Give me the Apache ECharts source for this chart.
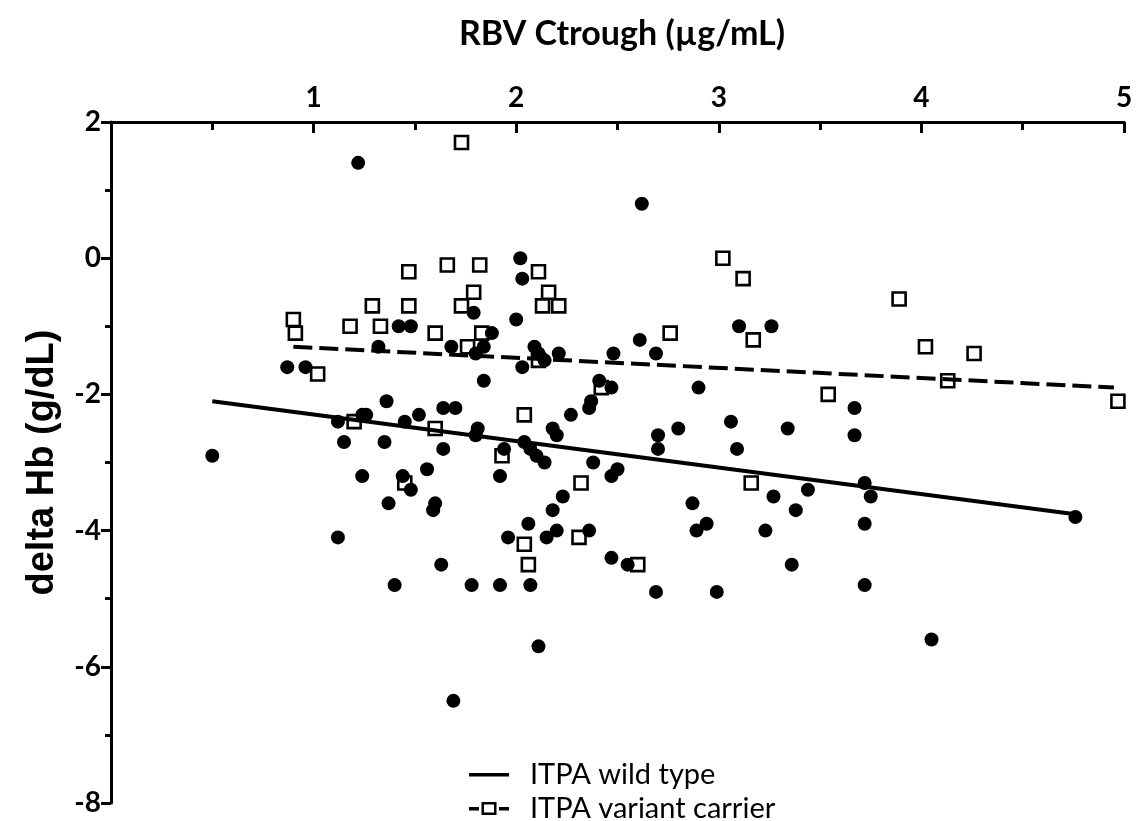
<!DOCTYPE html>
<html>
<head>
<meta charset="utf-8">
<title>RBV Ctrough vs delta Hb</title>
<script src="https://cdn.jsdelivr.net/npm/echarts@6/dist/echarts.min.js"></script>
<style>
  html, body { margin: 0; padding: 0; background: #fff; }
  #chart { width: 1138px; height: 821px; }
</style>
</head>
<body>
<div id="chart"></div>
<script>
// ITPA wild type patients: [RBV Ctrough (ug/mL), delta Hb (g/dL)]
var wildType = [
  [0.50, -2.9], [0.87, -1.6], [0.96, -1.6], [1.22, 1.4], [1.32, -1.3],
  [1.42, -1.0], [1.48, -1.0], [1.36, -2.1], [1.24, -2.3], [1.26, -2.3],
  [1.12, -2.4], [1.45, -2.4], [1.52, -2.3], [1.15, -2.7], [1.35, -2.7],
  [1.24, -3.2], [1.44, -3.2], [1.48, -3.4], [1.37, -3.6], [1.56, -3.1],
  [1.60, -3.6], [1.59, -3.7], [1.12, -4.1], [1.40, -4.8], [1.79, -0.8],
  [2.02, 0.0], [2.03, -0.3], [2.00, -0.9], [1.88, -1.1], [1.68, -1.3],
  [1.84, -1.3], [1.80, -1.4], [2.09, -1.3], [2.11, -1.4], [2.14, -1.5],
  [2.21, -1.4], [2.03, -1.6], [2.48, -1.4], [2.61, -1.2], [2.69, -1.4],
  [1.84, -1.8], [2.41, -1.8], [2.47, -1.9], [2.37, -2.1], [2.36, -2.2],
  [2.27, -2.3], [2.90, -1.9], [2.62, 0.8], [3.10, -1.0], [3.26, -1.0],
  [1.64, -2.2], [1.70, -2.2], [1.81, -2.5], [2.18, -2.5], [2.20, -2.6],
  [2.04, -2.7], [2.70, -2.6], [1.80, -2.6], [1.64, -2.8], [1.94, -2.8],
  [2.07, -2.8], [2.10, -2.9], [2.14, -3.0], [1.92, -3.2], [2.38, -3.0],
  [2.47, -3.2], [2.50, -3.1], [2.70, -2.8], [2.80, -2.5], [3.06, -2.4],
  [3.09, -2.8], [3.27, -3.5], [2.87, -3.6], [2.89, -4.0], [2.94, -3.9],
  [3.23, -4.0], [2.23, -3.5], [2.18, -3.7], [2.06, -3.9], [1.96, -4.1],
  [2.15, -4.1], [2.20, -4.0], [2.36, -4.0], [1.63, -4.5], [2.47, -4.4],
  [2.55, -4.5], [1.78, -4.8], [1.92, -4.8], [2.07, -4.8], [2.69, -4.9],
  [2.99, -4.9], [2.11, -5.7], [1.69, -6.5], [3.67, -2.2], [3.67, -2.6],
  [3.34, -2.5], [3.44, -3.4], [3.38, -3.7], [3.72, -3.3], [3.75, -3.5],
  [3.72, -3.9], [3.36, -4.5], [3.72, -4.8], [4.76, -3.8], [4.05, -5.6]
];

// ITPA variant carriers
var variantCarrier = [
  [0.90, -0.9], [0.91, -1.1], [1.18, -1.0], [1.29, -0.7], [1.33, -1.0],
  [1.47, -0.2], [1.47, -0.7], [1.02, -1.7], [1.20, -2.4], [1.45, -3.3],
  [1.73, 1.7], [1.66, -0.1], [1.82, -0.1], [1.79, -0.5], [1.73, -0.7],
  [2.11, -0.2], [2.16, -0.5], [2.13, -0.7], [2.21, -0.7], [1.60, -1.1],
  [1.83, -1.1], [1.76, -1.3], [2.11, -1.5], [2.76, -1.1], [2.42, -1.9],
  [3.02, 0.0], [3.12, -0.3], [3.17, -1.2], [1.60, -2.5], [2.04, -2.3],
  [1.93, -2.9], [2.32, -3.3], [3.16, -3.3], [2.04, -4.2], [2.06, -4.5],
  [2.31, -4.1], [2.60, -4.5], [3.89, -0.6], [3.54, -2.0], [4.02, -1.3],
  [4.26, -1.4], [4.13, -1.8], [4.97, -2.1]
];

// regression lines, end points
var wildFit = [[0.50, -2.10], [4.76, -3.76]];
var variantFit = [[0.90, -1.30], [4.95, -1.90]];

var seriesNames = ['ITPA wild type', 'ITPA variant carrier'];

// legend icons: solid bar, dashed bar with open square
var iconSolid = 'path://M0,0h0M0,6.5h40v3.5H0zM40,16h0';
var iconDashSquare = 'path://M0,0h0M0,6.5h10v3.5H0zM12.5,1.5h15v13h-15zM15,4v8h10v-8zM30,6.5h10v3.5h-10zM40,16h0';

function legendFor(name, icon, top) {
  return {
    orient: 'vertical',
    left: 464,
    top: top,
    itemWidth: 40,
    itemHeight: 16,
    itemStyle: { color: '#000', borderWidth: 0 },
    textStyle: { fontFamily: 'Lato', fontSize: 29, color: '#000', padding: [0, 0, 0, 16] },
    data: [{ name: name, icon: icon }]
  };
}

var chart = echarts.init(document.getElementById('chart'));
var option = {
  animation: false,
  backgroundColor: '#fff',
  title: {
    text: 'RBV Ctrough (µg/mL)',
    left: 617,
    textAlign: 'center',
    top: 12,
    textStyle: { fontFamily: 'Lato', fontWeight: 'bold', fontSize: 34, color: '#000' }
  },
  legend: [
    legendFor(seriesNames[0], iconSolid, 755),
    legendFor(seriesNames[1], iconDashSquare, 789)
  ],
  grid: { left: 111, right: 14, top: 122, bottom: 18 },
  xAxis: {
    type: 'value',
    position: 'top',
    min: 0,
    max: 5,
    interval: 1,
    axisLine: { onZero: false, lineStyle: { color: '#000', width: 3 } },
    axisTick: { inside: true, length: 11, lineStyle: { color: '#000', width: 3 } },
    minorTick: { show: true, splitNumber: 2, length: 8, lineStyle: { color: '#000', width: 3 } },
    splitLine: { show: false },
    axisLabel: {
      margin: 10,
      color: '#000',
      fontFamily: 'Lato',
      fontWeight: 'bold',
      fontSize: 28,
      formatter: function (v) { return v === 0 ? '' : v; }
    }
  },
  yAxis: {
    type: 'value',
    min: -8,
    max: 2,
    interval: 2,
    name: 'delta Hb (g/dL)',
    nameLocation: 'middle',
    nameGap: 49,
    nameTextStyle: { fontFamily: 'Liberation Sans', fontWeight: 'bold', fontSize: 38, color: '#000' },
    axisLine: { show: true, onZero: false, lineStyle: { color: '#000', width: 3 } },
    axisTick: { show: true, length: 10, lineStyle: { color: '#000', width: 3 } },
    minorTick: { show: true, splitNumber: 2, length: 6, lineStyle: { color: '#000', width: 3 } },
    splitLine: { show: false },
    axisLabel: { margin: 10, color: '#000', fontFamily: 'Lato', fontWeight: 'bold', fontSize: 28 }
  },
  series: [
    {
      name: seriesNames[1],
      type: 'scatter',
      data: variantCarrier,
      symbol: 'rect',
      symbolSize: 13,
      itemStyle: { color: '#fff', borderColor: '#000', borderWidth: 2.6, opacity: 1 },
      z: 2
    },
    {
      name: seriesNames[0],
      type: 'scatter',
      data: wildType,
      symbol: 'circle',
      symbolSize: 14,
      itemStyle: { color: '#000', opacity: 1 },
      z: 3
    },
    {
      name: 'wild fit',
      type: 'line',
      data: wildFit,
      symbol: 'none',
      lineStyle: { color: '#000', width: 4 },
      z: 4
    },
    {
      name: 'variant fit',
      type: 'line',
      data: variantFit,
      symbol: 'none',
      lineStyle: { color: '#000', width: 4, type: [19, 7] },
      z: 4
    }
  ]
};
chart.setOption(option);
</script>
</body>
</html>
